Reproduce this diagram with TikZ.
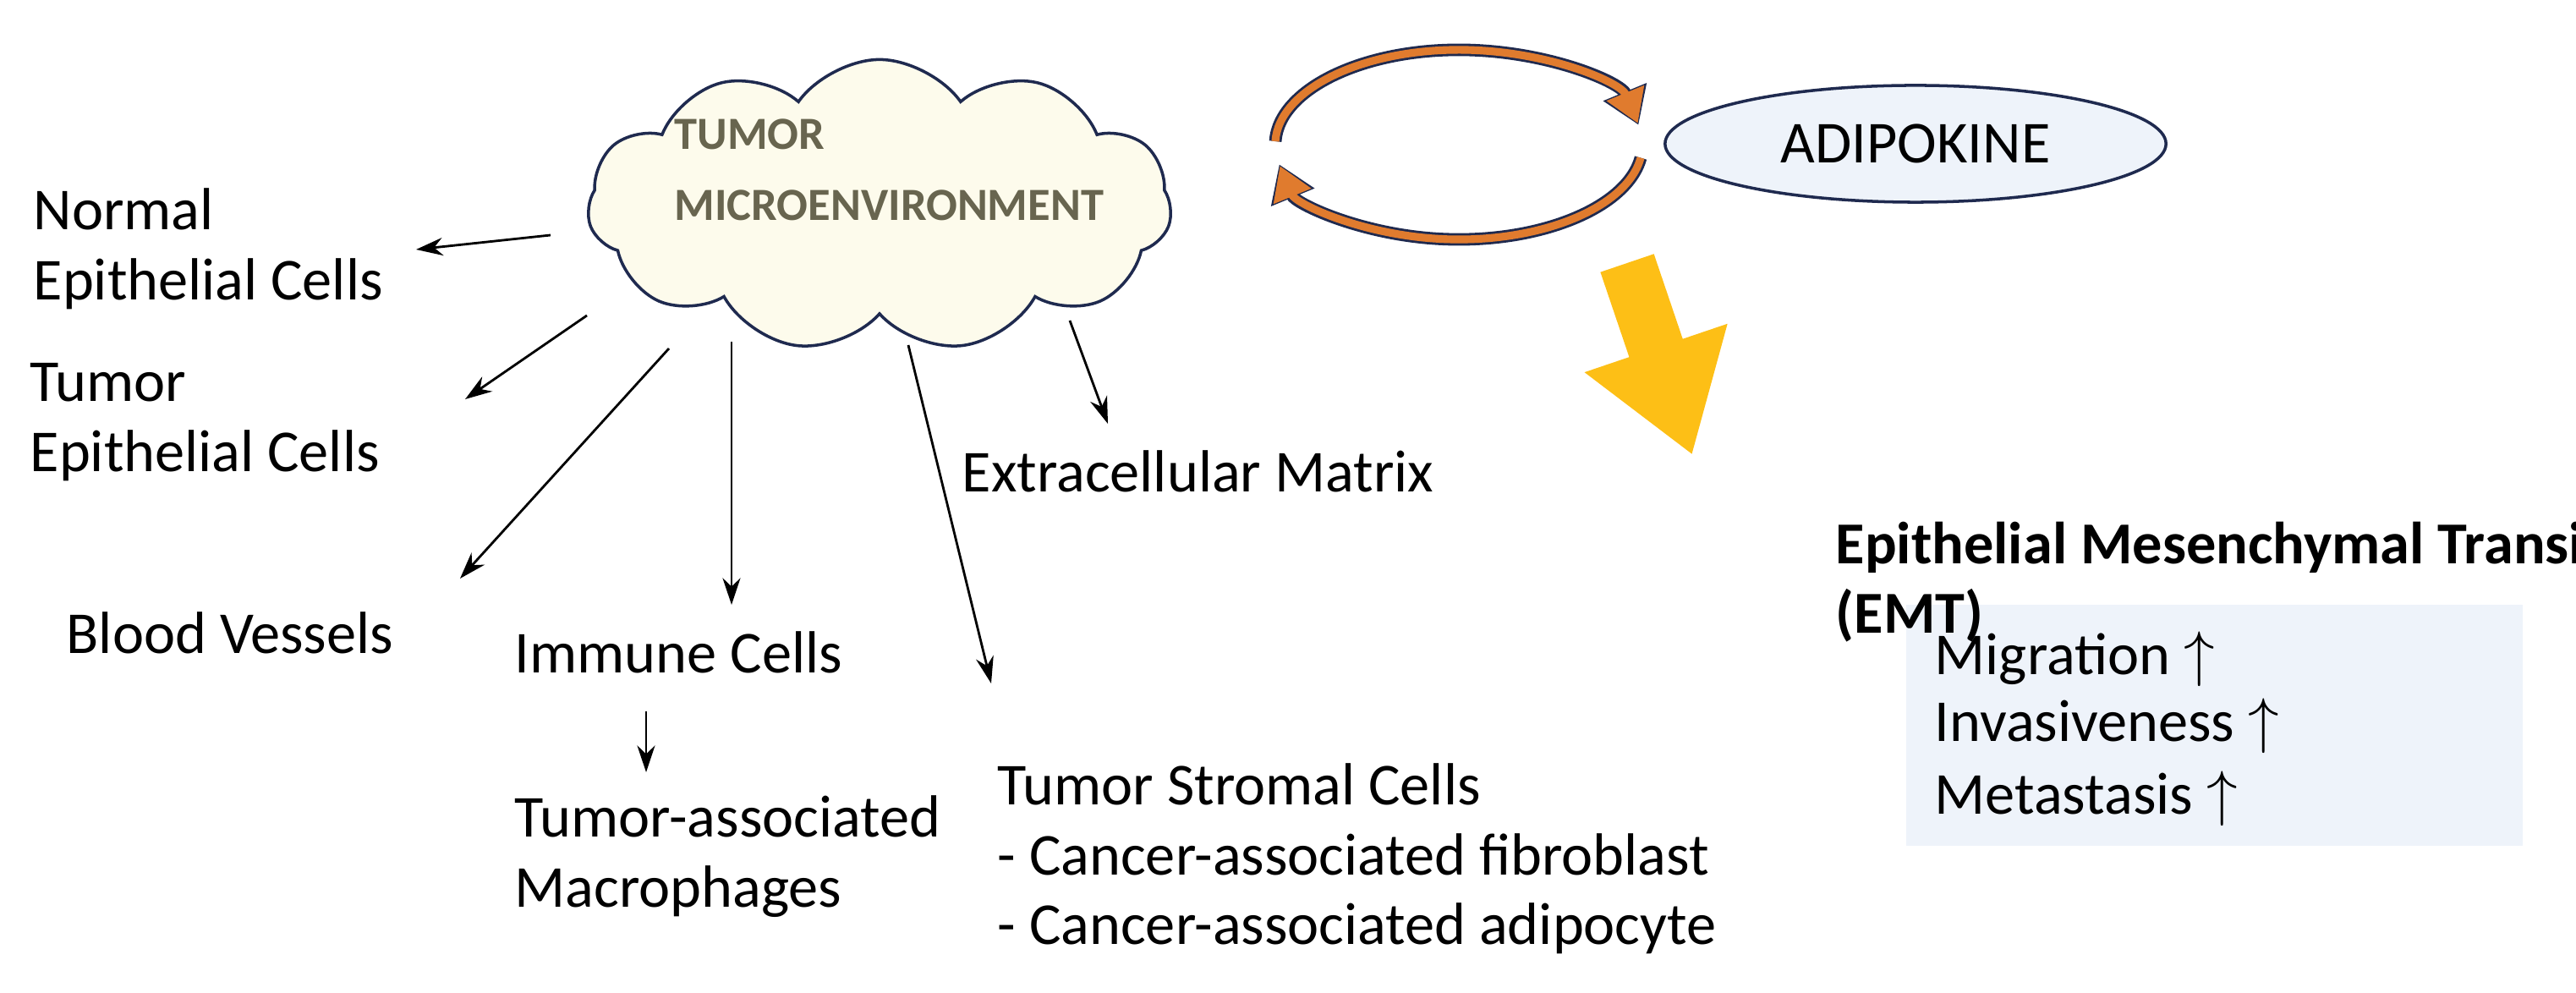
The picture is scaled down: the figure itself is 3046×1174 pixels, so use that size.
\documentclass[tikz,border=0pt]{standalone}
\usepackage{fontspec}
\setmainfont{Carlito}
\usetikzlibrary{shapes.symbols,shapes.geometric,arrows.meta}
\definecolor{navy}{HTML}{1F2A4F}
\definecolor{cream}{HTML}{FDFBEC}
\definecolor{orng}{HTML}{E07B2E}
\definecolor{ylw}{HTML}{FDBF16}
\definecolor{lblue}{HTML}{EEF3FA}
\begin{document}
\begin{tikzpicture}[x=0.01cm,y=0.01cm,
  lbl/.style={anchor=north west,inner sep=0pt,align=left,font=\fontsize{20}{23.5}\selectfont},
  ar/.style={-{Stealth[length=9pt,width=6pt]},line width=0.8pt}]
\useasboundingbox (0,0) rectangle (3046,-1174);
% cloud
\node[cloud,cloud puffs=11,cloud puff arc=110,aspect=2.1,draw=navy,fill=cream,line width=1pt,minimum width=6.9cm,minimum height=3.45cm,inner sep=0pt] (cl) at (1040,-243) {};
\node[anchor=north west,inner sep=0pt,align=left,text=black!60!olive!60!gray,font=\bfseries\fontsize{15.5}{19}\selectfont] (tme) at (797,-140) {TUMOR\\[5pt]MICROENVIRONMENT};
% labels
\node[lbl] (ne) at (39,-222) {Normal\\Epithelial Cells};
\node[lbl] (te) at (35,-429) {Tumor\\Epithelial Cells};
\node[lbl] (bv) at (78,-723) {Blood Vessels};
\node[lbl] (ic) at (608,-746) {Immune Cells};
\node[lbl] (tam) at (608,-940) {Tumor-associated\\Macrophages};
\node[lbl] (ts) at (1179,-902) {Tumor Stromal Cells\\- Cancer-associated fibroblast\\- Cancer-associated adipocyte};
\node[lbl] (ecm) at (1137,-532) {Extracellular Matrix};
% arrows
\coordinate (s1) at (651,-278); \coordinate (e1) at (492,-295);
\coordinate (s2) at (694,-373); \coordinate (e2) at (550,-472);
\coordinate (s3) at (791,-412); \coordinate (e3) at (544,-684);
\coordinate (s4) at (865,-404); \coordinate (e4) at (865,-715);
\coordinate (s5) at (764,-841); \coordinate (e5) at (764,-913);
\coordinate (s6) at (1074,-408); \coordinate (e6) at (1172,-808);
\coordinate (s7) at (1265,-379); \coordinate (e7) at (1310,-501);
\foreach \i in {1,...,7} \draw[ar] (s\i) -- (e\i);
% cycle
\coordinate (cc) at (1725,-171);
\foreach \a/\b in {178/12,-8/-168}{
\draw[navy,line width=4.2pt,-{Triangle[width=15pt,length=12pt]}] (cc) ++(\a:2.17cm and 1.12cm) arc[start angle=\a,end angle=\b,x radius=2.17cm,y radius=1.12cm];
\draw[orng,line width=2.6pt,-{Triangle[width=13pt,length=11pt]},shorten >=0.6pt] (cc) ++(\a:2.17cm and 1.12cm) arc[start angle=\a,end angle=\b,x radius=2.17cm,y radius=1.12cm];
}
% adipokine
\node[ellipse,draw=navy,fill=lblue,line width=1pt,minimum width=5.92cm,minimum height=1.38cm,font=\fontsize{20}{24}\selectfont] (adi) at (2265,-170) {ADIPOKINE};
% yellow arrow
\coordinate (ya) at (1924,-311); \coordinate (yb) at (2001,-538);
\draw[ylw,line width=19pt,-{Triangle[width=48pt,length=38pt]}] (ya) -- (yb);
% EMT
\fill[lblue] (2254,-715) rectangle (2983,-1000);
\node[lbl,font=\bfseries\fontsize{20}{23.5}\selectfont] (emt) at (2170,-616) {Epithelial Mesenchymal Transition\\(EMT)};
\node[lbl] (mig) at (2287,-746) {Migration $\uparrow$\\[-1pt]Invasiveness $\uparrow$\\[1pt]Metastasis $\uparrow$};
\end{tikzpicture}
\end{document}
